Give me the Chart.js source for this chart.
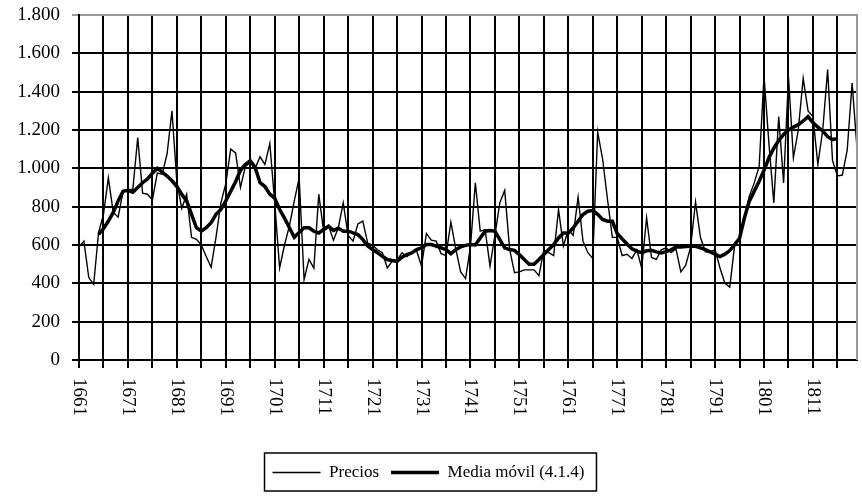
<!DOCTYPE html>
<html>
<head>
<meta charset="utf-8">
<script src="https://cdn.jsdelivr.net/npm/chart.js@4.4.0/dist/chart.umd.min.js"></script>
<style>
  html, body { margin: 0; padding: 0; background: #fff; }
</style>
</head>
<body>
<canvas id="preciosChart" width="862" height="497"></canvas>
<script>
const anios = [
  1661, 1662, 1663, 1664, 1665, 1666, 1667, 1668, 1669, 1670,
  1671, 1672, 1673, 1674, 1675, 1676, 1677, 1678, 1679, 1680,
  1681, 1682, 1683, 1684, 1685, 1686, 1687, 1688, 1689, 1690,
  1691, 1692, 1693, 1694, 1695, 1696, 1697, 1698, 1699, 1700,
  1701, 1702, 1703, 1704, 1705, 1706, 1707, 1708, 1709, 1710,
  1711, 1712, 1713, 1714, 1715, 1716, 1717, 1718, 1719, 1720,
  1721, 1722, 1723, 1724, 1725, 1726, 1727, 1728, 1729, 1730,
  1731, 1732, 1733, 1734, 1735, 1736, 1737, 1738, 1739, 1740,
  1741, 1742, 1743, 1744, 1745, 1746, 1747, 1748, 1749, 1750,
  1751, 1752, 1753, 1754, 1755, 1756, 1757, 1758, 1759, 1760,
  1761, 1762, 1763, 1764, 1765, 1766, 1767, 1768, 1769, 1770,
  1771, 1772, 1773, 1774, 1775, 1776, 1777, 1778, 1779, 1780,
  1781, 1782, 1783, 1784, 1785, 1786, 1787, 1788, 1789, 1790,
  1791, 1792, 1793, 1794, 1795, 1796, 1797, 1798, 1799, 1800,
  1801, 1802, 1803, 1804, 1805, 1806, 1807, 1808, 1809, 1810,
  1811, 1812, 1813, 1814, 1815, 1816, 1817, 1818, 1819, 1820
];

// Precios anuales
const precios = [
  590, 620, 430, 395, 665, 760, 950, 770, 745, 880,
  890, 890, 1160, 870, 865, 835, 975, 970, 1075, 1300,
  930, 790, 865, 640, 630, 600, 540, 485, 640, 820,
  920, 1100, 1080, 900, 1010, 1030, 1000, 1060, 1020, 1130,
  820, 480, 600, 700, 830, 950, 420, 525, 480, 865,
  670, 700, 625, 690, 820, 650, 620, 710, 725, 610,
  600, 575, 560, 480, 515, 520, 560, 540, 560, 570,
  490, 660, 625, 620, 555, 545, 720, 580, 460, 425,
  590, 924, 672, 680, 490, 650, 820, 885, 580, 455,
  460, 470, 470, 470, 440, 575, 560, 545, 785, 595,
  680, 650, 850, 620, 560, 530, 1190, 1050, 840, 640,
  640, 545, 552, 530, 575, 480, 742, 535, 525, 575,
  585, 560, 580, 460, 495, 590, 825, 640, 565, 565,
  575, 480, 400, 380, 600, 640, 752, 855, 924, 1010,
  1480, 1130, 820, 1270, 924, 1475, 1055, 1200, 1470, 1300,
  1270, 1020, 1200, 1515, 1040, 960, 965, 1095, 1445, 1105
];

// Media móvil (4.1.4): de 1665 a 1816
const mediaMovil = [
  null, null, null, null, 655, 685, 725, 770, 830, 880,
  885, 875, 900, 925, 945, 975, 1000, 980, 960, 935,
  905, 865, 830, 760, 690, 672, 690, 716, 760, 785,
  830, 880, 930, 990, 1020, 1040, 1005, 925, 905, 865,
  845, 785, 740, 690, 640, 665, 690, 690, 672, 663,
  681, 698, 676, 688, 672, 672, 663, 655, 628, 595,
  576, 560, 541, 524, 519, 515, 536, 550, 559, 576,
  585, 602, 602, 594, 585, 576, 555, 576, 590, 598,
  603, 600, 637, 672, 675, 672, 628, 585, 576, 572,
  550, 524, 500, 500, 524, 550, 576, 602, 637, 663,
  663, 689, 724, 759, 776, 780, 760, 733, 724, 724,
  660, 632, 605, 580, 568, 560, 570, 572, 564, 558,
  565, 575, 590, 590, 592, 594, 593, 585, 576, 564,
  552, 540, 552, 571, 602, 635, 742, 829, 881, 933,
  990, 1055, 1105, 1145, 1177, 1200, 1215, 1228, 1247, 1270,
  1238, 1215, 1195, 1165, 1150, 1155, null, null, null, null
];

const FUENTE = '"Liberation Serif", "Times New Roman", serif';

function miles(v) {
  return String(v).replace(/\B(?=(\d{3})+(?!\d))/g, '.');
}

// etiquetas del eje X giradas 90 grados (se leen de arriba abajo)
const etiquetasX = {
  id: 'etiquetasX',
  afterDraw(chart) {
    const ctx = chart.ctx;
    const ejeX = chart.scales.x;
    ctx.save();
    ctx.font = '19px ' + FUENTE;
    ctx.fillStyle = '#000';
    ctx.textAlign = 'left';
    ctx.textBaseline = 'middle';
    anios.forEach((a, i) => {
      if (i % 10 !== 0) return;
      ctx.save();
      ctx.translate(ejeX.getPixelForValue(i), ejeX.top + 18);
      ctx.rotate(Math.PI / 2);
      ctx.fillText(String(a), 0, 0);
      ctx.restore();
    });
    ctx.restore();
  }
};

// borde derecho gris y recuadro de la leyenda
const bordes = {
  id: 'bordes',
  afterDraw(chart) {
    const ctx = chart.ctx;
    const area = chart.chartArea;
    ctx.save();
    ctx.strokeStyle = '#999';
    ctx.lineWidth = 2;
    ctx.beginPath();
    ctx.moveTo(area.right, area.top - 1);
    ctx.lineTo(area.right, area.bottom);
    ctx.stroke();

    const cajas = chart.legend.legendHitBoxes;
    if (cajas && cajas.length) {
      const izq = Math.min(...cajas.map(c => c.left)) - 8;
      const der = Math.max(...cajas.map(c => c.left + c.width)) + 12;
      const arr = Math.min(...cajas.map(c => c.top)) - 11;
      const aba = Math.max(...cajas.map(c => c.top + c.height)) + 10;
      ctx.strokeStyle = '#000';
      ctx.lineWidth = 1.5;
      ctx.strokeRect(izq, arr, der - izq, aba - arr);
    }
    ctx.restore();
  }
};

const ctx = document.getElementById('preciosChart').getContext('2d');
new Chart(ctx, {
  type: 'line',
  data: {
    labels: anios,
    datasets: [
      {
        label: 'Precios',
        data: precios,
        borderColor: '#000',
        backgroundColor: '#000',
        borderWidth: 1.4,
        pointRadius: 0,
        tension: 0
      },
      {
        label: 'Media móvil (4.1.4)',
        data: mediaMovil,
        borderColor: '#000',
        backgroundColor: '#000',
        borderWidth: 3.5,
        pointRadius: 0,
        tension: 0
      }
    ]
  },
  options: {
    responsive: false,
    animation: false,
    devicePixelRatio: 1,
    layout: { padding: { top: 15, right: 5, bottom: 6, left: 0 } },
    plugins: {
      tooltip: { enabled: false },
      legend: {
        position: 'bottom',
        labels: {
          color: '#000',
          font: { family: FUENTE, size: 17 },
          usePointStyle: true,
          pointStyle: 'line',
          pointStyleWidth: 48,
          padding: 12
        }
      }
    },
    scales: {
      x: {
        type: 'category',
        offset: false,
        afterFit: s => { s.height = 92; },
        grid: {
          offset: false,
          color: c => (c.index % 5 === 0 ? '#000' : 'rgba(0,0,0,0)'),
          lineWidth: 2,
          tickLength: 8
        },
        border: { color: '#000', width: 2 },
        ticks: { display: false, autoSkip: false }
      },
      y: {
        min: 0,
        max: 1800,
        afterFit: s => { s.width = 79; s.paddingTop = 0; s.paddingBottom = 0; },
        grid: {
          color: c => (c.tick && c.tick.value === 1800 ? '#999' : '#000'),
          lineWidth: 2,
          tickLength: 7
        },
        border: { color: '#000', width: 2 },
        ticks: {
          stepSize: 200,
          padding: 12,
          color: '#000',
          font: { family: FUENTE, size: 19 },
          callback: v => miles(v)
        }
      }
    }
  },
  plugins: [etiquetasX, bordes]
});
</script>
</body>
</html>
